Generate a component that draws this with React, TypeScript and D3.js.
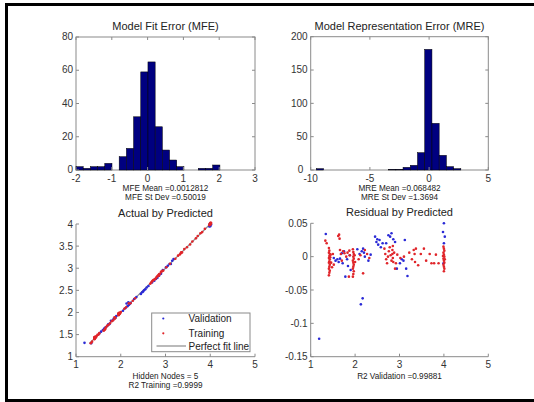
import React from 'react';
import * as d3 from 'd3';

// histogram counts (20 bins each)
const mfeBinStart = -2;
const mfeBinWidth = 0.201;
const mfeCounts = [2, 1, 2, 2, 4, 0, 8, 13, 32, 59, 65, 26, 12, 6, 2, 0, 0, 1, 1, 3];

const mreBinStart = -9.52;
const mreBinWidth = 0.61;
const mreCounts = [2, 0, 0, 0, 0, 0, 0, 0, 0, 0, 1, 1, 4, 7, 26, 181, 70, 22, 5, 2];

// validation points: predicted, residual
const validationPred = [
  1.19, 1.34, 1.52, 1.56, 1.6, 1.63, 1.66, 1.7, 1.72, 1.75, 1.78, 1.82, 1.84, 1.88, 1.9,
  2.05, 2.1, 2.15, 2.18, 2.2, 2.22, 2.13, 2.17, 2.3, 2.35,
  2.45, 2.48, 2.5, 2.52, 2.55, 2.58, 2.62,
  2.7, 2.75, 2.79, 2.82, 2.86, 2.9, 2.94, 3.01, 3.05, 3.09, 3.12, 3.15, 3.18,
  4.0, 3.98, 4.02, 4.0, 3.99,
];
const validationResid = [
  -0.123, 0.034, -0.002, -0.006, -0.004, -0.008, -0.003, 0.005, -0.01, 0.008, -0.03, -0.004, -0.014, 0.002, -0.02,
  0.011, 0.004, 0.008, 0.012, 0.006, 0.0, -0.0715, -0.0625, -0.006, 0.003,
  0.03, 0.022, 0.026, 0.018, 0.025, 0.014, 0.02,
  0.02, 0.032, 0.03, 0.035, 0.026, 0.022, -0.018, -0.01, -0.004, -0.006, 0.025, -0.018, -0.029,
  0.05, 0.037, 0.03, 0.02, -0.01,
];

// training points: predicted, residual
const trainingPred = [
  1.33, 1.36, 1.41, 1.42, 1.41, 1.43, 1.42, 1.41, 1.43, 1.42, 1.41, 1.43, 1.42, 1.41, 1.43, 1.42, 1.41, 1.44, 1.45, 1.46, 1.48, 1.5, 1.52,
  1.62, 1.64, 1.65, 1.66, 1.68, 1.7, 1.73, 1.76,
  1.8, 1.83, 1.86, 1.87, 1.88,
  1.95, 1.96, 1.97, 1.96, 1.97, 1.95, 1.96, 1.97, 1.96, 1.95, 1.97, 1.96, 1.95, 1.99, 2.0,
  2.08, 2.12, 2.18, 2.22, 2.27, 2.32,
  2.66, 2.68, 2.7, 2.72, 2.74, 2.76, 2.78, 2.8, 2.82, 2.84, 2.84, 2.85, 2.86, 2.85, 2.88, 2.9, 2.92, 2.95,
  3.02, 3.1, 3.22, 3.28, 3.32, 3.34, 3.35, 3.37, 3.42, 3.48, 3.55, 3.6,
  3.68, 3.72, 3.78, 3.82, 3.88,
  3.99, 4.0, 4.01, 3.99, 4.0, 4.01, 3.99, 4.0, 4.01, 3.99, 4.0, 4.01, 4.0, 3.98, 4.02,
];
const trainingResid = [
  0.024, 0.02, 0.013, 0.009, 0.006, 0.004, 0.001, -0.002, -0.004, -0.007, -0.009, -0.012, -0.015, -0.018, -0.021, -0.024, -0.028, -0.001, 0.003, -0.009, -0.016, 0.004, -0.012,
  0.031, 0.033, 0.027, 0.01, 0.004, -0.006, 0.008, 0.005,
  0.0, 0.006, -0.03, 0.009, 0.002,
  0.011, 0.007, 0.004, 0.0, -0.003, -0.006, -0.009, -0.012, -0.015, -0.018, -0.022, -0.026, -0.03, 0.002, -0.008,
  -0.004, 0.002, -0.025, 0.01, 0.004, -0.002,
  0.012, 0.004, -0.004, -0.01, 0.0, 0.008, 0.014, 0.002, -0.006, 0.01, 0.004, -0.002, -0.008, 0.016, 0.006, -0.018, -0.01, 0.003,
  -0.002, 0.0, 0.006, -0.004, 0.01, 0.004, -0.008, 0.012, -0.013, 0.004, 0.012, -0.006,
  0.004, -0.01, -0.01, 0.003, -0.01,
  0.015, 0.012, 0.009, 0.006, 0.003, 0.0, -0.003, -0.006, -0.009, -0.012, -0.015, -0.018, -0.022, 0.001, -0.004,
];

const fitLine = [1.3, 4.0];

const FONT = '"Liberation Sans", Arial, Helvetica, sans-serif';
const AXIS = '#8a8a8a';
const LABEL = '#333';
const BLUE = '#2a2ad6';
const RED = '#e0252a';

type Box = { x0: number; x1: number; yTop: number; yBot: number };

function Histogram({ box, xDomain, yDomain, xTicks, yTicks, binStart, binWidth, counts, title, notes, yGap = 3 }: any) {
  const { x0, x1, yTop, yBot } = box as Box;
  const xs = d3.scaleLinear().domain(xDomain).range([x0, x1]);
  const ys = d3.scaleLinear().domain(yDomain).range([yBot, yTop]);
  const cx = (x0 + x1) / 2;
  return (
    <g>
      <rect x={x0} y={yTop} width={x1 - x0} height={yBot - yTop} fill="#fff" stroke={AXIS} strokeWidth={1} />
      {counts.map((c: number, i: number) => {
        const a = xs(binStart + i * binWidth);
        const b = xs(binStart + (i + 1) * binWidth);
        return (
          <rect key={i} x={a} y={ys(c)} width={b - a} height={ys(0) - ys(c)}
            fill="#000080" stroke="#000" strokeWidth={0.5} />
        );
      })}
      {xTicks.map((t: number) => (
        <g key={'x' + t}>
          <line x1={xs(t)} x2={xs(t)} y1={yBot} y2={yBot - 3} stroke={AXIS} />
          <line x1={xs(t)} x2={xs(t)} y1={yTop} y2={yTop + 3} stroke={AXIS} />
          <text x={xs(t)} y={yBot + 11.5} textAnchor="middle" fontSize={10} fill={LABEL}>{t}</text>
        </g>
      ))}
      {yTicks.map((t: number) => (
        <g key={'y' + t}>
          <line x1={x0} x2={x0 + 3} y1={ys(t)} y2={ys(t)} stroke={AXIS} />
          <line x1={x1} x2={x1 - 3} y1={ys(t)} y2={ys(t)} stroke={AXIS} />
          <text x={x0 - (t === 0 ? yGap : 3)} y={ys(t) + 3.2} textAnchor="end" fontSize={10} fill={LABEL}>{t}</text>
        </g>
      ))}
      <text x={cx} y={yTop - 7} textAnchor="middle" fontSize={11} fill="#222">{title}</text>
      {notes.map((n: string, i: number) => (
        <text key={n} x={cx} y={yBot + 20.5 + i * 9} textAnchor="middle" fontSize={8.2} fill="#222">{n}</text>
      ))}
    </g>
  );
}

function Scatter({ box, xDomain, yDomain, xTicks, yTicks, title, notes, series, line, legend }: any) {
  const { x0, x1, yTop, yBot } = box as Box;
  const xs = d3.scaleLinear().domain(xDomain).range([x0, x1]);
  const ys = d3.scaleLinear().domain(yDomain).range([yBot, yTop]);
  const cx = (x0 + x1) / 2;
  return (
    <g>
      {line && (
        <line x1={xs(line[0])} y1={ys(line[0])} x2={xs(line[1])} y2={ys(line[1])} stroke="#8c8c8c" strokeWidth={1.2} />
      )}
      {series.map((s: any) =>
        s.x.map((v: number, i: number) => (
          <circle key={s.name + i} cx={xs(v)} cy={ys(s.y[i])} r={1.3} fill={s.color} />
        ))
      )}
      <line x1={x0} x2={x0} y1={yTop} y2={yBot} stroke={AXIS} />
      <line x1={x0} x2={x1} y1={yBot} y2={yBot} stroke={AXIS} />
      {xTicks.map((t: number) => (
        <g key={'x' + t}>
          <line x1={xs(t)} x2={xs(t)} y1={yBot} y2={yBot - 3} stroke={AXIS} />
          <text x={xs(t)} y={yBot + 11.5} textAnchor="middle" fontSize={10} fill={LABEL}>{t}</text>
        </g>
      ))}
      {yTicks.map((t: number) => (
        <g key={'y' + t}>
          <line x1={x0} x2={x0 + 3} y1={ys(t)} y2={ys(t)} stroke={AXIS} />
          <text x={x0 - 3} y={ys(t) + 3.5} textAnchor="end" fontSize={10} fill={LABEL}>{t}</text>
        </g>
      ))}
      <text x={cx} y={yTop - 7.5} textAnchor="middle" fontSize={11} fill="#222">{title}</text>
      {notes.map((n: string, i: number) => (
        <text key={n} x={cx} y={yBot + 22 + i * 9.5} textAnchor="middle" fontSize={8.2} fill="#222">{n}</text>
      ))}
      {legend && (
        <g>
          <rect x={151.7} y={313} width={98.3} height={38.7} fill="#fff" stroke={AXIS} />
          <circle cx={163.3} cy={318.5} r={1.1} fill={BLUE} />
          <text x={188.5} y={322} fontSize={10} fill="#222">Validation</text>
          <circle cx={163.3} cy={333.3} r={1.1} fill={RED} />
          <text x={188.5} y={336.5} fontSize={10} fill="#222">Training</text>
          <line x1={156.5} x2={186} y1={346} y2={346} stroke="#8c8c8c" strokeWidth={1.2} />
          <text x={188.5} y={349.5} fontSize={10} fill="#222">Perfect fit line</text>
        </g>
      )}
    </g>
  );
}

export default function App() {
  const valActual = validationPred.map((p, i) => p - validationResid[i]);
  const trainActual = trainingPred.map((p, i) => p - trainingResid[i]);
  return (
    <div style={{ position: 'absolute', left: 0, top: 0 }}>
      <svg width={534} height={402} style={{ display: 'block', fontFamily: FONT }}>
        <rect x={0} y={0} width={534} height={402} fill="#fff" />
        <Histogram
          box={{ x0: 76, x1: 255, yTop: 37, yBot: 170 }}
          xDomain={[-2, 3]} yDomain={[0, 80]}
          xTicks={[-2, -1, 0, 1, 2, 3]} yTicks={[0, 20, 40, 60, 80]}
          binStart={mfeBinStart} binWidth={mfeBinWidth} counts={mfeCounts}
          title="Model Fit Error (MFE)"
          notes={['MFE Mean =0.0012812', 'MFE St Dev =0.50019']}
        />
        <Histogram
          box={{ x0: 310.7, x1: 488.3, yTop: 36.7, yBot: 170 }}
          xDomain={[-10, 5]} yDomain={[0, 200]}
          xTicks={[-10, -5, 0, 5]} yTicks={[0, 50, 100, 150, 200]}
          binStart={mreBinStart} binWidth={mreBinWidth} counts={mreCounts}
          title="Model Representation Error (MRE)"
          notes={['MRE Mean =0.068482', 'MRE St Dev =1.3694']}
          yGap={7.5}
        />
        <Scatter
          box={{ x0: 76, x1: 255, yTop: 224, yBot: 356.7 }}
          xDomain={[1, 5]} yDomain={[1, 4]}
          xTicks={[1, 2, 3, 4, 5]} yTicks={[1, 1.5, 2, 2.5, 3, 3.5, 4]}
          title="Actual by Predicted"
          notes={['Hidden Nodes = 5', 'R2 Training =0.9999']}
          line={fitLine}
          legend
          series={[
            { name: 'v', x: validationPred, y: valActual, color: BLUE },
            { name: 't', x: trainingPred, y: trainActual, color: RED },
          ]}
        />
        <Scatter
          box={{ x0: 310.7, x1: 488.3, yTop: 223.3, yBot: 356.7 }}
          xDomain={[1, 5]} yDomain={[-0.15, 0.05]}
          xTicks={[1, 2, 3, 4, 5]} yTicks={[0.05, 0, -0.05, -0.1, -0.15]}
          title="Residual by Predicted"
          notes={['R2 Validation =0.99881']}
          series={[
            { name: 'v', x: validationPred, y: validationResid, color: BLUE },
            { name: 't', x: trainingPred, y: trainingResid, color: RED },
          ]}
        />
        <rect x={6.5} y={4.5} width={600} height={396} fill="none" stroke="#000" strokeWidth={3} />
      </svg>
    </div>
  );
}
